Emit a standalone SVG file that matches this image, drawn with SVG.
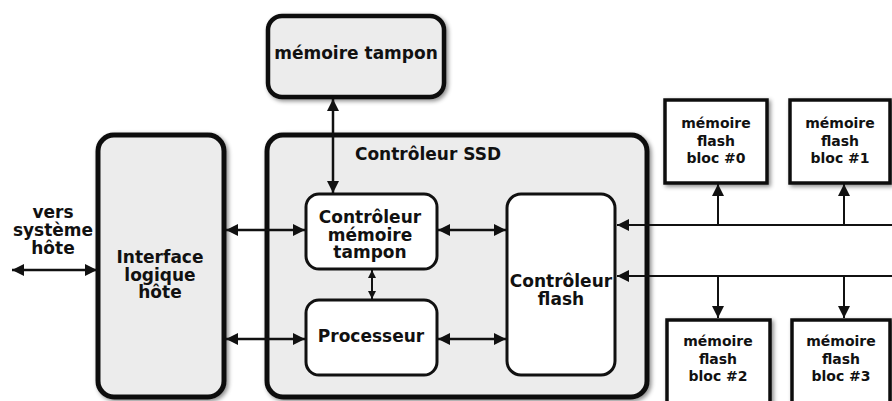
<svg xmlns="http://www.w3.org/2000/svg" width="892" height="401" viewBox="0 0 892 401">
  <style>
    text { font-family: "DejaVu Sans", "Liberation Sans", sans-serif; font-weight: bold; fill: #111; text-anchor: middle; }
    .big { font-size: 17px; }
    .small { font-size: 14px; }
    .grey { fill: #ececec; stroke: #111; stroke-width: 5; }
    .inner { fill: #ffffff; stroke: #111; stroke-width: 3; }
    .block { fill: #ffffff; stroke: #111; stroke-width: 3.5; }
    .wire { stroke: #111; stroke-width: 2.5; fill: none; }
    .bus { stroke: #111; stroke-width: 2; fill: none; }
  </style>
  <defs>
    <filter id="shadow" x="-10%" y="-10%" width="130%" height="130%">
      <feDropShadow dx="2" dy="2" stdDeviation="2" flood-color="#000" flood-opacity="0.45"/>
    </filter>
    <marker id="head" viewBox="0 0 12 12" refX="12" refY="6" markerWidth="12" markerHeight="12" markerUnits="userSpaceOnUse" orient="auto-start-reverse">
      <path d="M0,0 L12,6 L0,12 z" fill="#111"/>
    </marker>
    <marker id="headSmall" viewBox="0 0 8 8" refX="8" refY="4" markerWidth="8" markerHeight="8" markerUnits="userSpaceOnUse" orient="auto-start-reverse">
      <path d="M0,0 L8,4 L0,8 z" fill="#111"/>
    </marker>
  </defs>

  <rect width="892" height="401" fill="#ffffff"/>

  <!-- buffer memory -->
  <g id="buffer-memory">
    <rect class="grey" x="268" y="16" width="176" height="81" rx="14" filter="url(#shadow)" style="stroke-width:4.5"/>
    <text class="big" x="356" y="59">mémoire tampon</text>
  </g>

  <!-- host interface -->
  <g id="host-interface">
    <rect class="grey" x="98" y="135" width="126" height="262" rx="16" filter="url(#shadow)"/>
    <text class="big" x="160" y="263">Interface</text>
    <text class="big" x="160" y="280.5">logique</text>
    <text class="big" x="160" y="298">hôte</text>
  </g>

  <!-- host side label -->
  <g id="host-label">
    <text class="big" x="53" y="218">vers</text>
    <text class="big" x="53" y="236">système</text>
    <text class="big" x="53" y="254">hôte</text>
  </g>

  <!-- SSD controller enclosure -->
  <g id="ssd-controller">
    <rect class="grey" x="267" y="135" width="380" height="262" rx="16" filter="url(#shadow)"/>
    <text class="big" x="428" y="160">Contrôleur SSD</text>
  </g>

  <g id="buffer-controller">
    <rect class="inner" x="306" y="194" width="131" height="75" rx="13"/>
    <text class="big" x="370" y="223">Contrôleur</text>
    <text class="big" x="370" y="240.5">mémoire</text>
    <text class="big" x="370" y="258">tampon</text>
  </g>

  <g id="processor">
    <rect class="inner" x="306" y="300" width="131" height="75" rx="13"/>
    <text class="big" x="371" y="342">Processeur</text>
  </g>

  <g id="flash-controller">
    <rect class="inner" x="507" y="194" width="108" height="181" rx="14"/>
    <text class="big" x="561" y="287">Contrôleur</text>
    <text class="big" x="561" y="305">flash</text>
  </g>

  <!-- flash memory blocks -->
  <g id="flash-bloc-0">
    <rect class="block" x="665" y="100" width="102" height="83" filter="url(#shadow)"/>
    <text class="small" x="716" y="128">mémoire</text>
    <text class="small" x="716" y="146">flash</text>
    <text class="small" x="716" y="163">bloc #0</text>
  </g>
  <g id="flash-bloc-1">
    <rect class="block" x="790" y="100" width="100" height="83" filter="url(#shadow)"/>
    <text class="small" x="840" y="128">mémoire</text>
    <text class="small" x="840" y="146">flash</text>
    <text class="small" x="840" y="163">bloc #1</text>
  </g>
  <g id="flash-bloc-2">
    <rect class="block" x="667" y="320" width="103" height="95" filter="url(#shadow)"/>
    <text class="small" x="718" y="346">mémoire</text>
    <text class="small" x="718" y="364">flash</text>
    <text class="small" x="718" y="381">bloc #2</text>
  </g>
  <g id="flash-bloc-3">
    <rect class="block" x="792" y="320" width="98" height="95" filter="url(#shadow)"/>
    <text class="small" x="841" y="346">mémoire</text>
    <text class="small" x="841" y="364">flash</text>
    <text class="small" x="841" y="381">bloc #3</text>
  </g>

  <!-- connectors -->
  <g id="connectors">
    <line class="wire" x1="12" y1="270" x2="97" y2="270" marker-start="url(#head)" marker-end="url(#head)"/>
    <line class="wire" x1="333" y1="99" x2="333" y2="193" marker-start="url(#head)" marker-end="url(#head)"/>
    <line class="wire" x1="226" y1="230" x2="305" y2="230" marker-start="url(#head)" marker-end="url(#head)"/>
    <line class="wire" x1="226" y1="339" x2="305" y2="339" marker-start="url(#head)" marker-end="url(#head)"/>
    <line class="wire" x1="438" y1="230" x2="506" y2="230" marker-start="url(#head)" marker-end="url(#head)"/>
    <line class="wire" x1="438" y1="339" x2="506" y2="339" marker-start="url(#head)" marker-end="url(#head)"/>
    <line class="wire" x1="372" y1="270" x2="372" y2="299" marker-start="url(#headSmall)" marker-end="url(#headSmall)" style="stroke-width:2"/>

    <!-- flash buses -->
    <line class="bus" x1="892" y1="225" x2="617" y2="225" marker-end="url(#head)"/>
    <line class="bus" x1="892" y1="276" x2="617" y2="276" marker-end="url(#head)"/>
    <line class="bus" x1="718" y1="225" x2="718" y2="184" marker-end="url(#head)"/>
    <line class="bus" x1="844" y1="225" x2="844" y2="184" marker-end="url(#head)"/>
    <line class="bus" x1="718" y1="276" x2="718" y2="318" marker-end="url(#head)"/>
    <line class="bus" x1="844" y1="276" x2="844" y2="318" marker-end="url(#head)"/>
  </g>
</svg>
